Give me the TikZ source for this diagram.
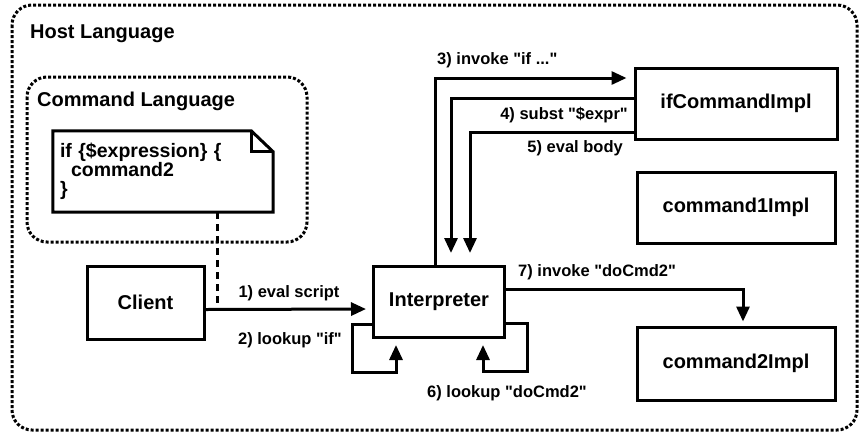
\documentclass[tikz,border=0pt]{standalone}
\usepackage{fontspec}
\setmainfont{Liberation Sans}[Ligatures=TeXOff]
\usetikzlibrary{arrows.meta}

\begin{document}
\begin{tikzpicture}[x=1pt,y=-1pt,
    every node/.style={font=\fontsize{20}{24}\selectfont\bfseries},
    box/.style={draw,line width=3pt,minimum width=198pt,minimum height=71pt},
    lbl/.style={font=\fontsize{16.5}{19}\selectfont\bfseries,inner sep=0pt},
    notetext/.style={font=\fontsize{19.5}{19}\selectfont\bfseries,align=left,
        text width=206pt,inner sep=7pt,minimum height=81pt},
    arr/.style={line width=3pt,-{Triangle[length=15pt,width=13pt]},shorten >=6pt},
    region/.style={line width=3pt,dash pattern=on 3pt off 2pt,rounded corners=20pt}]
    \useasboundingbox (0,0) rectangle (859,432);

    % regions
    \draw[region] (12,5) rectangle (857,430);
    \draw[region] (27,77) rectangle (307,242);
    \node[anchor=west,inner sep=0pt] (hostlbl) at (30,34) {Host Language};
    \node[anchor=west,inner sep=0pt] (cmdlbl) at (37,101) {Command Language};

    % script note
    \node[notetext] (note) at (163,171.5)
        {if \{\$expression\} \{\\\hspace*{11pt}command2\\\}};
    \draw[line width=3pt] (note.south west) -- (note.north west)
        -- ([xshift=-22pt]note.north east) -- ([yshift=-21pt]note.north east)
        -- (note.south east) -- cycle;
    \draw[line width=3pt] ([xshift=-22pt]note.north east) |- ([yshift=-21pt]note.north east);

    \node[box,minimum width=117pt,minimum height=73pt] (client) at (145.5,302.5) {Client};
    \node[box,minimum width=131pt] (interp) at (439,302) {Interpreter};
    \node[box,minimum width=202pt] (ifimpl) at (736,103.5) {ifCommandImpl};
    \node[box] (cmdone) at (736,207.5) {command1Impl};
    \node[box,minimum height=73pt] (cmdtwo) at (736,363.5) {command2Impl};

    \coordinate (tap) at (217,309);
    \draw[line width=3pt,dash pattern=on 7pt off 5pt] (note.south -| tap) -- (tap);

    \draw[arr] ([yshift=-7pt]client.east) -- ([yshift=-7pt]interp.west);
    \draw[arr] ([yshift=-22pt]interp.west) -- ++(-20,0) -- ++(0,48) -| ([xshift=-43pt]interp.south);
    \draw[arr,shorten >=7pt] ([xshift=-4pt]interp.north) |- ([yshift=25.5pt]ifimpl.west);
    \draw[arr,shorten >=12pt] ([yshift=5.5pt]ifimpl.west) -| ([xshift=12pt]interp.north);
    \draw[arr,shorten >=12pt] ([yshift=-28.5pt]ifimpl.west) -| ([xshift=31pt]interp.north);
    \draw[arr] ([yshift=-21pt]interp.east) -- ++(21,0) -- ++(0,48) -| ([xshift=44pt]interp.south);
    \draw[arr,shorten >=4pt] ([yshift=13pt]interp.east) -| ([xshift=7pt]cmdtwo.north);

    \node[lbl] (evallbl) at (289,293) {1) eval script};
    \node[lbl,anchor=east] (lookiflbl) at (342,340) {2) lookup "if"};
    \node[lbl,anchor=west] (invifl) at (437,60) {3) invoke "if ..."};
    \node[lbl,anchor=east] (substlbl) at (628,115) {4) subst "\$expr"};
    \node[lbl,anchor=east] (bodylbl) at (623,148) {5) eval body};
    \node[lbl] (lookcmdlbl) at (507,393) {6) lookup "doCmd2"};
    \node[lbl,anchor=west] (invcmdlbl) at (518,272) {7) invoke "doCmd2"};
\end{tikzpicture}
\end{document}
